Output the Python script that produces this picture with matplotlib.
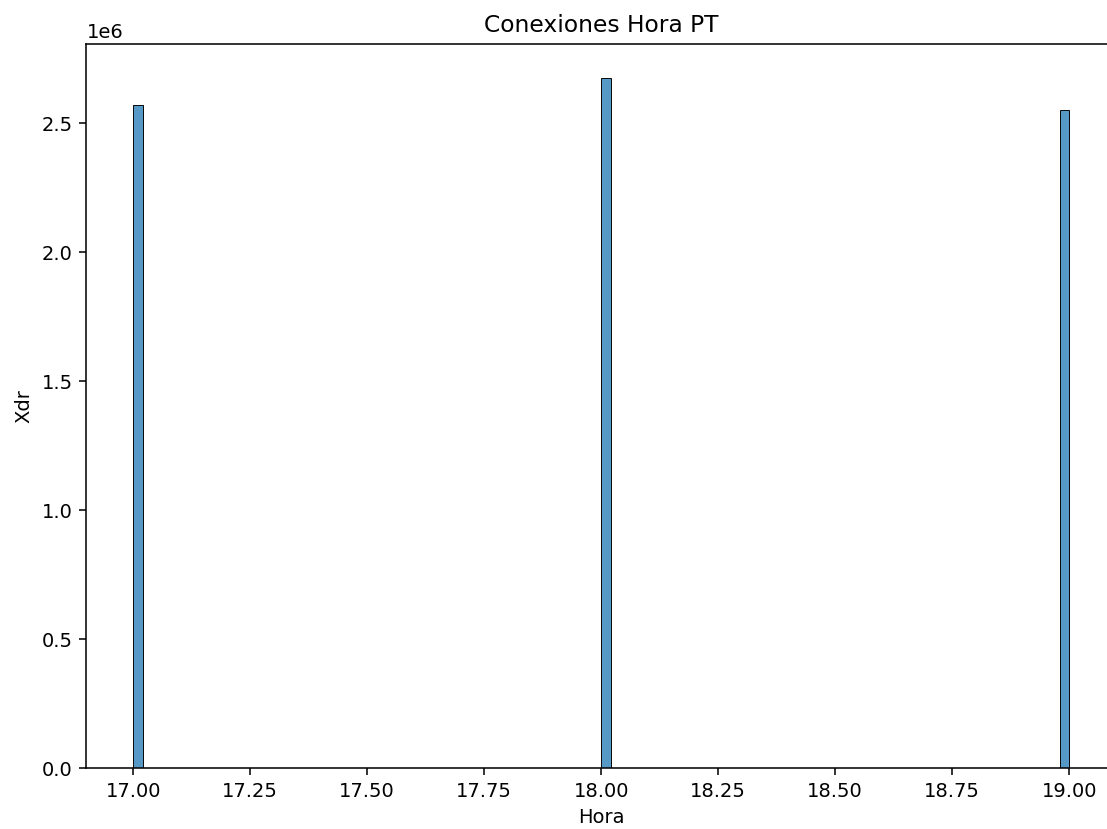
import matplotlib
matplotlib.use("Agg")
import matplotlib.pyplot as plt
import seaborn as sns

hora = [17, 18, 19]
xdr = [2.570e6, 2.674e6, 2.550e6]

fig = plt.figure(figsize=(1107 / 140, 829 / 140), dpi=140)
# axes runs a bit past the right edge, as in the reference crop
ax = fig.add_axes([86.4 / 1107, 1 - 768 / 829, (1116 - 86.4) / 1107, (768 - 44) / 829])
sns.histplot(x=hora, weights=xdr, bins=100, ax=ax)
ax.set_title("Conexiones Hora PT")
ax.set_xlabel("Hora")
ax.set_ylabel("Xdr")
fig.savefig("out.png", dpi=140)
